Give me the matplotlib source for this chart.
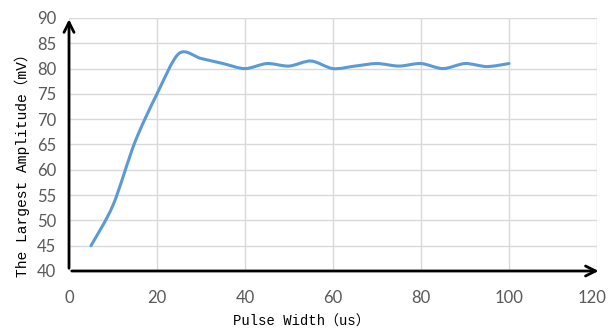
import numpy as np
import matplotlib
matplotlib.use("Agg")
import matplotlib.pyplot as plt
import matplotlib.transforms as mtransforms
from matplotlib.path import Path
from matplotlib.patches import PathPatch

pulse_width = [5, 10, 15, 20, 25, 30, 35, 40, 45, 50, 55, 60, 65, 70, 75, 80, 85, 90, 95, 100]
amplitude = [45, 53, 65.5, 75, 83, 82, 81, 80, 81, 80.5, 81.5, 80, 80.5, 81, 80.5, 81, 80, 81, 80.4, 81]

x_ticks = [0, 20, 40, 60, 80, 100, 120]
y_ticks = [40, 45, 50, 55, 60, 65, 70, 75, 80, 85, 90]


def smooth_path(xs, ys, t=0.45):
    # Catmull-Rom style Bezier controls, like Excel's smoothed line
    xs, ys = np.asarray(xs, float), np.asarray(ys, float)
    verts = [(xs[0], ys[0])]
    codes = [Path.MOVETO]
    n = len(xs)
    for i in range(n - 1):
        i0, i2, i3 = max(i - 1, 0), i + 1, min(i + 2, n - 1)
        c1 = (xs[i] + (xs[i2] - xs[i0]) * t / 3, ys[i] + (ys[i2] - ys[i0]) * t / 3)
        c2 = (xs[i2] - (xs[i3] - xs[i]) * t / 3, ys[i2] - (ys[i3] - ys[i]) * t / 3)
        verts += [c1, c2, (xs[i2], ys[i2])]
        codes += [Path.CURVE4] * 3
    return Path(verts, codes)


fig = plt.figure(figsize=(6.08, 3.31), dpi=100)
ax = fig.add_axes([69 / 608, 1 - 271 / 331, (597 - 69) / 608, (271 - 18) / 331])

ax.set_xlim(0, 120)
ax.set_ylim(40, 90)
ax.set_xticks(x_ticks)
ax.set_yticks(y_ticks)
ax.grid(True, color="#d9d9d9", lw=1)
ax.set_axisbelow(True)
for s in ax.spines.values():
    s.set_visible(False)
ax.tick_params(length=0, labelsize=12, labelcolor="#595959")
ax.tick_params(axis="x", pad=14)
ax.tick_params(axis="y", pad=9)
for lab in ax.get_xticklabels() + ax.get_yticklabels():
    lab.set_family("Lato")
# keep the last x label inside the canvas, right edge near the border
last = ax.get_xticklabels()[-1]
last.set_horizontalalignment("right")
last.set_transform(last.get_transform() + mtransforms.ScaledTranslation(9 / 100, 0, fig.dpi_scale_trans))

ax.add_patch(PathPatch(smooth_path(pulse_width, amplitude), fill=False,
                       edgecolor="#5B9BD5", lw=2.2, capstyle="round"))

# axis arrows
ax.annotate("", xy=(121, 40), xytext=(0, 40), annotation_clip=False,
            arrowprops=dict(arrowstyle="->", color="black", lw=2, mutation_scale=18))
ax.annotate("", xy=(0, 90.3), xytext=(0, 40), annotation_clip=False,
            arrowprops=dict(arrowstyle="->", color="black", lw=2, mutation_scale=18))

fam = ["Liberation Mono", "Noto Sans CJK SC"]
fig.text(22 / 608, 1 - 162 / 331, "The Largest Amplitude（mV）", rotation=90,
         ha="center", va="center", fontsize=10.5, family=fam, color="black")
fig.text(301 / 608, 1 - 322 / 331, "Pulse Width（us）", ha="center", va="center",
         fontsize=10, family=fam, color="black")

fig.savefig("out.png", dpi=100)
